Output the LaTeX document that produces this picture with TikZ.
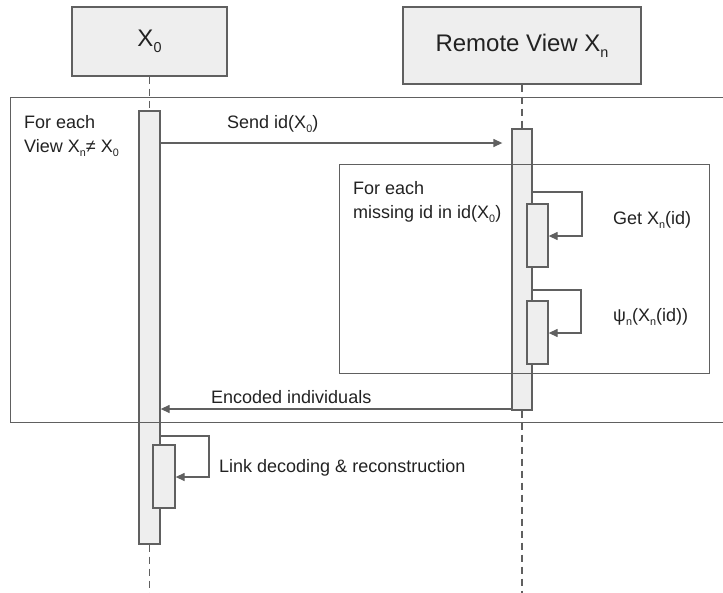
\documentclass[tikz,border=0pt]{standalone}
\usepackage{fontspec}
\setmainfont{Liberation Sans}
\usetikzlibrary{arrows.meta}
\definecolor{ln}{HTML}{606060}
\definecolor{bx}{HTML}{EEEEEE}
\definecolor{tx}{HTML}{222222}
\newcommand\sbs[1]{\raisebox{-0.25em}{\scalebox{0.6}{#1}}}
\begin{document}
\begin{tikzpicture}[x=1pt,y=-1pt,
 head/.style={draw=ln, fill=bx, line width=1.3pt, inner sep=0, font=\fontsize{24}{28}\selectfont, text=tx},
 act/.style={draw=ln, fill=bx, line width=1.3pt, inner sep=0, minimum width=21pt},
 frm/.style={draw=ln, line width=1.3pt, inner sep=0},
 life/.style={draw=ln, line width=1.8pt, dash pattern=on 7pt off 5pt},
 msg/.style={draw=ln, line width=1.3pt, -{Triangle[length=9pt,width=8pt]}},
 lbl/.style={inner sep=0, text=tx, font=\fontsize{18}{24}\selectfont, align=left},
]
\useasboundingbox (0,0) rectangle (723,592);
% heads
\node[head, minimum width=155pt, minimum height=69pt] (x0) at (149.5,41.5) {X\sbs{0}};
\node[head, minimum width=238pt, minimum height=77pt] (rv) at (522,45.5) {Remote View X\sbs{n}};
% activations
\node[act, minimum height=433pt] (a0) at (149.5,327.5) {};
\node[act, minimum width=20pt, minimum height=281pt] (ar) at (522,269.5) {};
\node[act, minimum height=63pt] (s1) at (537.5,235.5) {};
\node[act, minimum height=63pt] (s2) at (537.5,332.5) {};
\node[act, minimum width=22pt, minimum height=63pt] (s3) at (164,476.5) {};
% lifelines
\coordinate (x0end) at (149.5,600);
\coordinate (rvend) at (522,600);
\draw[life] (x0) -- (a0);
\draw[life] (a0) -- (x0end);
\draw[life] (rv) -- (ar);
\draw[life] (ar) -- (rvend);
% frames
\node[frm, anchor=north west, minimum width=720pt, minimum height=325pt] (outer) at (10,97) {};
\node[frm, anchor=north west, minimum width=370pt, minimum height=209pt] (inner) at (339,164) {};
% messages
\draw[msg, shorten >=9pt] (a0.east |- 0,143) -- (ar.west |- 0,143);
\draw[msg] (ar.east |- 0,192) -| (582,236) -- (s1.east |- 0,236);
\draw[msg] (ar.east |- 0,290) -| (581,333) -- (s2.east |- 0,333);
\draw[msg] (ar.west |- 0,409) -- (a0.east |- 0,409);
\draw[msg] (a0.east |- 0,436) -| (209,477) -- (s3.east |- 0,477);
% labels
\node[lbl, anchor=base west] (send) at (227,128) {Send id(X\sbs{0})};
\node[lbl, anchor=north west] (fe1) at (24,115) {For each\\View X\sbs{n}≠ X\sbs{0}};
\node[lbl, anchor=north west] (fe2) at (353,181) {For each\\missing id in id(X\sbs{0})};
\node[lbl, anchor=base west] (get) at (613,224) {Get X\sbs{n}(id)};
\node[lbl, anchor=base west] (psi) at (613,321) {ψ\sbs{n}(X\sbs{n}(id))};
\node[lbl, anchor=base west] (enc) at (211,403) {Encoded individuals};
\node[lbl, anchor=base west] (lnk) at (219,472) {Link decoding \& reconstruction};
\end{tikzpicture}
\end{document}
